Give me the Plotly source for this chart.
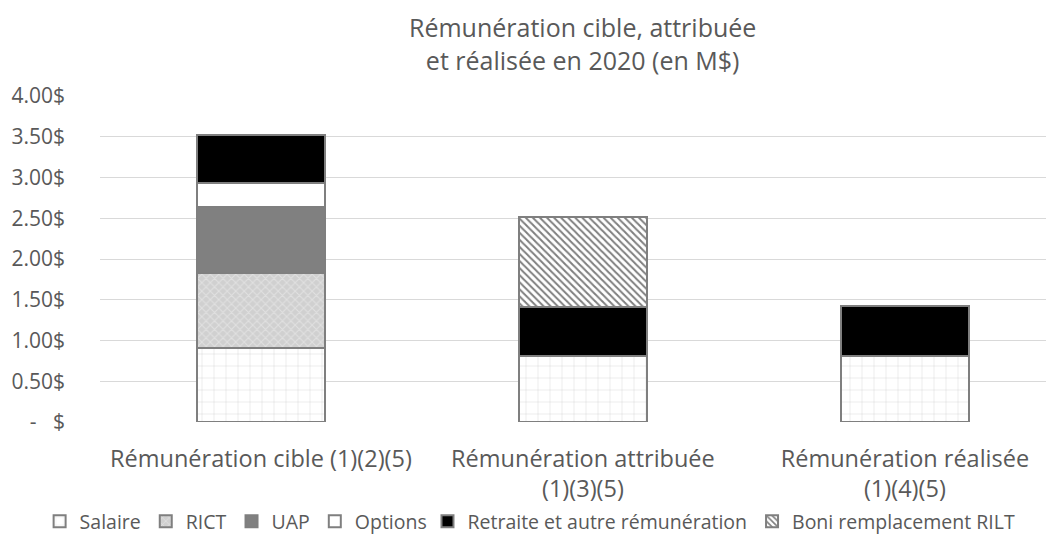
import plotly.graph_objects as go

categories = ["Rémunération cible (1)(2)(5)",
              "Rémunération attribuée<br>(1)(3)(5)",
              "Rémunération réalisée<br>(1)(4)(5)"]
salaire = [0.91, 0.81, 0.81]
rict = [0.92, None, None]
uap = [0.81, None, None]
options = [0.29, None, None]
retraite = [0.59, 0.60, 0.61]
boni = [None, 1.11, None]

tick_vals = [0, 0.5, 1, 1.5, 2, 2.5, 3, 3.5, 4]
tick_text = ["-   $", "0.50$", "1.00$", "1.50$", "2.00$", "2.50$", "3.00$", "3.50$", "4.00$"]

grey_txt = "#595959"
edge = dict(color="#7f7f7f", width=2)

series = [
    ("Salaire", salaire, "legend", dict(color="white", line=edge,
        pattern=dict(shape="+", fgcolor="#b0b0b0", bgcolor="white", size=12, solidity=0.08))),
    ("RICT", rict, "legend", dict(color="#d9d9d9", line=edge,
        pattern=dict(shape="x", fgcolor="#f2f2f2", bgcolor="#d0d0d0", size=6, solidity=0.3))),
    ("UAP", uap, "legend", dict(color="#808080", line=edge)),
    ("Options", options, "legend", dict(color="white", line=edge)),
    ("Retraite et autre rémunération", retraite, "legend2", dict(color="black", line=edge)),
    ("Boni remplacement RILT", boni, "legend2", dict(color="white", line=edge,
        pattern=dict(shape="\\", fgcolor="black", bgcolor="white", size=5, solidity=0.4))),
]

fig = go.Figure()
for name, vals, leg, marker in series:
    fig.add_trace(go.Bar(x=categories, y=vals, name=name, marker=marker, legend=leg))

fig.add_annotation(text="Rémunération cible, attribuée<br>et réalisée en 2020 (en M$)",
                   xref="paper", yref="paper", x=0.502, y=1.162,
                   xanchor="center", yanchor="middle", showarrow=False,
                   font=dict(size=25, color=grey_txt))

legend_common = dict(orientation="h", xref="container", yref="container",
                     xanchor="left", y=0.042, yanchor="middle",
                     bgcolor="rgba(0,0,0,0)",
                     font=dict(size=19.5, color=grey_txt), traceorder="normal",
                     itemwidth=30, tracegroupgap=0)

fig.update_layout(
    width=1054, height=536,
    barmode="stack", bargap=0.6,
    plot_bgcolor="white", paper_bgcolor="white",
    font=dict(family="Open Sans, Noto Sans, sans-serif", color=grey_txt, size=20),
    margin=dict(l=92, r=0, t=88, b=122, autoexpand=False),
    xaxis=dict(range=[-0.5, 2.488], showline=False, ticks="", automargin=False,
               ticklabelstandoff=20, tickfont=dict(size=23.5, color=grey_txt)),
    yaxis=dict(range=[0, 4], tickvals=tick_vals, ticktext=tick_text, automargin=False,
               gridcolor="#d9d9d9", gridwidth=1, zeroline=False,
               ticklabelstandoff=34, tickfont=dict(size=21, color=grey_txt)),
    legend=dict(x=0.03, **legend_common),
    legend2=dict(x=0.398, **legend_common),
)

fig.write_html("out.html")
